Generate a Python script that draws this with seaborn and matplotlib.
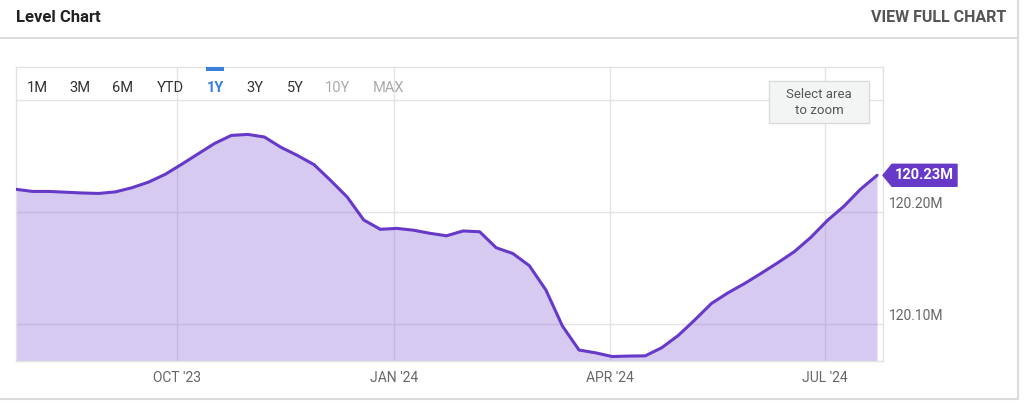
import matplotlib
matplotlib.use("Agg")
import matplotlib.pyplot as plt
import matplotlib.transforms as mtransforms
from matplotlib.patches import Rectangle, Polygon
from matplotlib.lines import Line2D
import seaborn as sns
import pandas as pd
import numpy as np

# ---------------- data (weekly level, millions) ----------------
start_date = "2023-07-25"
values = [
    120.2203, 120.2184, 120.2184, 120.2177, 120.2170, 120.2166, 120.2180, 120.2217,
    120.2267, 120.2336, 120.2426, 120.2520, 120.2613, 120.2684, 120.2693, 120.2670,
    120.2578, 120.2505, 120.2423, 120.2282, 120.2134, 120.1929, 120.1846, 120.1854,
    120.1838, 120.1810, 120.1788, 120.1831, 120.1824, 120.1681, 120.1630, 120.1521,
    120.1304, 120.0982, 120.0768, 120.0743, 120.0710, 120.0714, 120.0716, 120.0789,
    120.0899, 120.1038, 120.1184, 120.1279, 120.1362, 120.1453, 120.1547, 120.1646,
    120.1774, 120.1925, 120.2052, 120.2204, 120.2328,
]
dates = pd.date_range(start_date, periods=len(values), freq="7D")

x_tick_dates = ["2023-10-01", "2024-01-01", "2024-04-01", "2024-07-01"]
x_tick_labels = ["OCT '23", "JAN '24", "APR '24", "JUL '24"]
y_grid = [120.10, 120.20, 120.30]
y_labels = ["120.10M", "120.20M"]
buttons = ["1M", "3M", "6M", "YTD", "1Y", "3Y", "5Y", "10Y", "MAX"]
button_x = [37, 80, 123, 170, 215, 255, 295, 337, 389]
button_colors = ["#333333"] * 4 + ["#3a7fdc"] + ["#333333"] * 2 + ["#aaaaaa"] * 2
button_weights = ["normal"] * 4 + ["bold"] + ["normal"] * 4

df = pd.DataFrame({"date": dates, "value": values})

# ---------------- style ----------------
sns.set_theme(style="white")
plt.rcParams["font.family"] = ["Roboto", "DejaVu Sans"]

LINE = "#6639c9"
FILL = "#7b52d0"
W, H = 1024, 403

fig = plt.figure(figsize=(W / 100, H / 100), dpi=100)
fig.patch.set_facecolor("white")


def fx(px):
    return px / W


def fy(py):
    return 1 - py / H


ax = fig.add_axes([fx(16), fy(361), (883 - 16) / W, (361 - 67) / H])
ax.set_facecolor("white")

ax.fill_between(df["date"], df["value"], 120.0, color=FILL, alpha=0.3, lw=0, zorder=2)
sns.lineplot(data=df, x="date", y="value", ax=ax, color=LINE, lw=2.2, zorder=3)

ax.set_xlim(pd.Timestamp(start_date), dates[-1] + pd.Timedelta(days=2.5))
ax.set_ylim(120.067, 120.3295)

ax.set_xticks(pd.to_datetime(x_tick_dates))
ax.set_xticklabels(x_tick_labels)
ax.set_yticks(y_grid)
ax.set_yticklabels([])
ax.grid(True, color="#e4e4e4", lw=1)
ax.set_axisbelow(True)
ax.tick_params(axis="x", length=0, pad=7, labelsize=10, labelcolor="#666666")
ax.tick_params(axis="y", length=0)
ax.set_xlabel("")
ax.set_ylabel("")
for s in ax.spines.values():
    s.set_color("#e2e2e2")
    s.set_linewidth(1)

# right-side y labels sitting just above their grid lines
ytrans = ax.get_yaxis_transform() + mtransforms.ScaledTranslation(6 / 100, 8 / 100, fig.dpi_scale_trans)
for v, lab in zip(y_grid, y_labels):
    ax.text(1.0, v, lab, transform=ytrans, ha="left", va="center",
            fontsize=10, color="#666666", clip_on=False)

# last value callout
last_val = values[-1]
fig.canvas.draw()
tip = ax.get_yaxis_transform().transform((1.0, last_val))
poly = np.array([[0, 0], [9, 11], [74, 11], [74, -11], [9, -11]]) + tip
callout = Polygon(poly, closed=True, transform=mtransforms.IdentityTransform(),
                  facecolor=LINE, edgecolor=LINE, lw=1, zorder=5, clip_on=False)
ax.add_artist(callout)
ax.annotate(f"{last_val:.2f}M", xy=(1.0, last_val), xycoords=ax.get_yaxis_transform(),
            xytext=(41, 0), textcoords="offset pixels", ha="center", va="center",
            color="white", fontsize=10.5, fontweight="bold", zorder=6, annotation_clip=False)

# ---------------- card chrome ----------------
fig.text(fx(16), fy(17), "Level Chart", ha="left", va="center", fontsize=12,
         fontweight="bold", color="#222222")
fig.text(fx(1006), fy(17), "VIEW FULL CHART", ha="right", va="center", fontsize=11.5,
         fontweight="bold", color="#555555")
card = "#dcdcdc"
fig.add_artist(Line2D([0, fx(1018)], [fy(38), fy(38)], transform=fig.transFigure, color=card, lw=1.5))
fig.add_artist(Line2D([fx(1018), fx(1018)], [fy(0), fy(399)], transform=fig.transFigure, color=card, lw=1.5))
fig.add_artist(Line2D([0, fx(1018)], [fy(399), fy(399)], transform=fig.transFigure, color=card, lw=1.5))

# range buttons
for lab, bx, col, wt in zip(buttons, button_x, button_colors, button_weights):
    fig.text(fx(bx), fy(88), lab, ha="center", va="center", fontsize=10.5, color=col,
             fontweight=wt, zorder=6)
fig.add_artist(Rectangle((fx(206), fy(71)), 18 / W, 4 / H, transform=fig.transFigure,
                         facecolor="#3a7fdc", edgecolor="none", zorder=6))

# "Select area to zoom" hint box
fig.add_artist(Rectangle((fx(769), fy(123)), 100 / W, 42 / H, transform=fig.transFigure,
                         facecolor="#f3f5f5", edgecolor="#dadada", lw=1, zorder=5))
fig.text(fx(819), fy(95), "Select area", ha="center", va="center", fontsize=9.5, color="#555555", zorder=6)
fig.text(fx(819), fy(111), "to zoom", ha="center", va="center", fontsize=9.5, color="#555555", zorder=6)

fig.savefig("out.png", dpi=100)
